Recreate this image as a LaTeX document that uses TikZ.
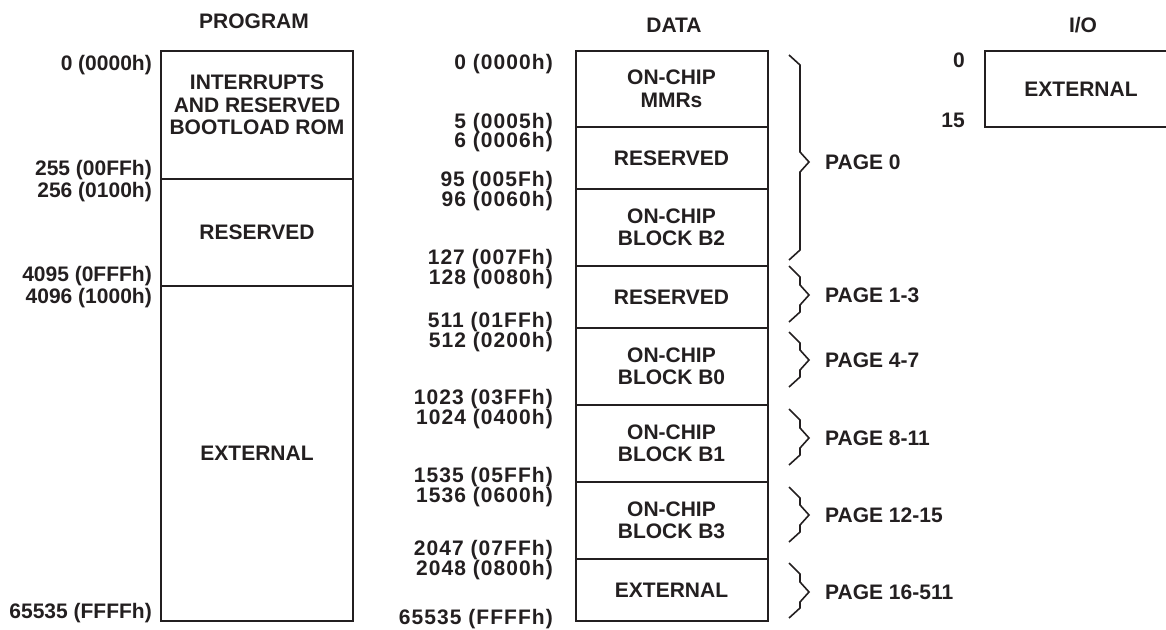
\documentclass[tikz,border=0pt]{standalone}
\usepackage{fontspec}
\setmainfont{Liberation Sans}
\newfontfamily\spacedfont{Liberation Sans}[LetterSpace=5]
\definecolor{ink}{RGB}{35,31,32}

\begin{document}
\begin{tikzpicture}[x=1pt, y=-1pt,
        every node/.style={inner sep=0pt, text=ink, font=\fontsize{21}{22.5}\selectfont\bfseries},
        region/.style={draw=ink, line width=2pt, minimum width=192pt, align=center},
        addr/.style={anchor=base east},
        daddr/.style={anchor=base east, font=\fontsize{21}{22.5}\spacedfont\bfseries},
        title/.style={anchor=base},
        pagelbl/.style={anchor=west},
        brace/.style={draw=ink, line width=1.6pt, line join=miter}]
            \useasboundingbox (0,0) rectangle (1166,629);

            % Program space
            \node[title] (tprog) at (254,28.5) {PROGRAM};
            \node[region, minimum height=128pt] (prog1) at (257,115) {};
            \node[align=center] (prog1txt) at (257,105) {INTERRUPTS\\AND RESERVED\\BOOTLOAD ROM};
            \node[region, minimum height=107pt] (prog2) at (257,232.5) {RESERVED};
            \node[region, minimum height=335pt] (prog3) at (257,453.5) {EXTERNAL};

            \node[addr] (pa0) at (152,70.5) {0 (0000h)};
            \node[addr] (pa1) at (152,175.5) {255 (00FFh)};
            \node[addr] (pa2) at (152,197.5) {256 (0100h)};
            \node[addr] (pa3) at (152,281.5) {4095 (0FFFh)};
            \node[addr] (pa4) at (152,303.5) {4096 (1000h)};
            \node[addr] (pa5) at (152,618) {65535 (FFFFh)};

            % Data space
            \node[title] (tdata) at (674,32) {DATA};
            \node[region, minimum height=76pt] (d1) at (671.5,89) {ON-CHIP\\MMRs};
            \node[region, minimum height=62pt] (d2) at (671.5,158) {RESERVED};
            \node[region, minimum height=77pt] (d3) at (671.5,227.5) {ON-CHIP\\BLOCK B2};
            \node[region, minimum height=62pt] (d4) at (671.5,297) {RESERVED};
            \node[region, minimum height=77pt] (d5) at (671.5,366.5) {ON-CHIP\\BLOCK B0};
            \node[region, minimum height=77pt] (d6) at (671.5,443.5) {ON-CHIP\\BLOCK B1};
            \node[region, minimum height=77pt] (d7) at (671.5,520.5) {ON-CHIP\\BLOCK B3};
            \node[region, minimum height=62pt] (d8) at (671.5,590) {EXTERNAL};

            \node[daddr] (da0) at (553,69.5) {0 (0000h)};
            \node[daddr] (da1) at (553,128.5) {5 (0005h)};
            \node[daddr] (da2) at (553,147.5) {6 (0006h)};
            \node[daddr] (da3) at (553,186.5) {95 (005Fh)};
            \node[daddr] (da4) at (553,206.5) {96 (0060h)};
            \node[daddr] (da5) at (553,264.5) {127 (007Fh)};
            \node[daddr] (da6) at (553,284.5) {128 (0080h)};
            \node[daddr] (da7) at (553,327.5) {511 (01FFh)};
            \node[daddr] (da8) at (553,347.5) {512 (0200h)};
            \node[daddr] (da9) at (553,404.5) {1023 (03FFh)};
            \node[daddr] (da10) at (553,424.5) {1024 (0400h)};
            \node[daddr] (da11) at (553,482.5) {1535 (05FFh)};
            \node[daddr] (da12) at (553,502.5) {1536 (0600h)};
            \node[daddr] (da13) at (553,555.5) {2047 (07FFh)};
            \node[daddr] (da14) at (553,575.5) {2048 (0800h)};
            \node[daddr] (da15) at (553,624) {65535 (FFFFh)};

            % Pages
            \draw[brace] (789,55) -- ++(11,10) -- ++(0,87) -- ++(9,10) coordinate (b0) -- ++(-9,10) -- ++(0,78) -- ++(-11,10);
            \draw[brace] (789,266) -- ++(11,11) -- ++(0,8) -- ++(9,10) coordinate (b1) -- ++(-9,10) -- ++(0,7) -- ++(-11,10);
            \draw[brace] (789,332) -- ++(11,11) -- ++(0,7) -- ++(9,10) coordinate (b2) -- ++(-9,10) -- ++(0,7) -- ++(-11,10);
            \draw[brace] (789,409) -- ++(11,11) -- ++(0,8) -- ++(9,10) coordinate (b3) -- ++(-9,10) -- ++(0,7) -- ++(-11,10);
            \draw[brace] (789,487) -- ++(11,11) -- ++(0,7) -- ++(9,10) coordinate (b4) -- ++(-9,10) -- ++(0,7) -- ++(-11,10);
            \draw[brace] (789,563) -- ++(11,11) -- ++(0,8) -- ++(9,10) coordinate (b5) -- ++(-9,10) -- ++(0,6) -- ++(-11,10);

            \node[pagelbl] (pg0) at ([xshift=16pt]b0) {PAGE 0};
            \node[pagelbl] (pg1) at ([xshift=16pt]b1) {PAGE 1-3};
            \node[pagelbl] (pg2) at ([xshift=16pt]b2) {PAGE 4-7};
            \node[pagelbl] (pg3) at ([xshift=16pt]b3) {PAGE 8-11};
            \node[pagelbl] (pg4) at ([xshift=16pt]b4) {PAGE 12-15};
            \node[pagelbl] (pg5) at ([xshift=16pt]b5) {PAGE 16-511};

            % I/O space
            \node[title] (tio) at (1083,32) {I/O};
            \node[region, minimum height=76pt] (io) at (1081,89) {EXTERNAL};
            \node[addr] (ia0) at (965,67.5) {0};
            \node[addr] (ia1) at (965,127.5) {15};
        \end{tikzpicture}
\end{document}
